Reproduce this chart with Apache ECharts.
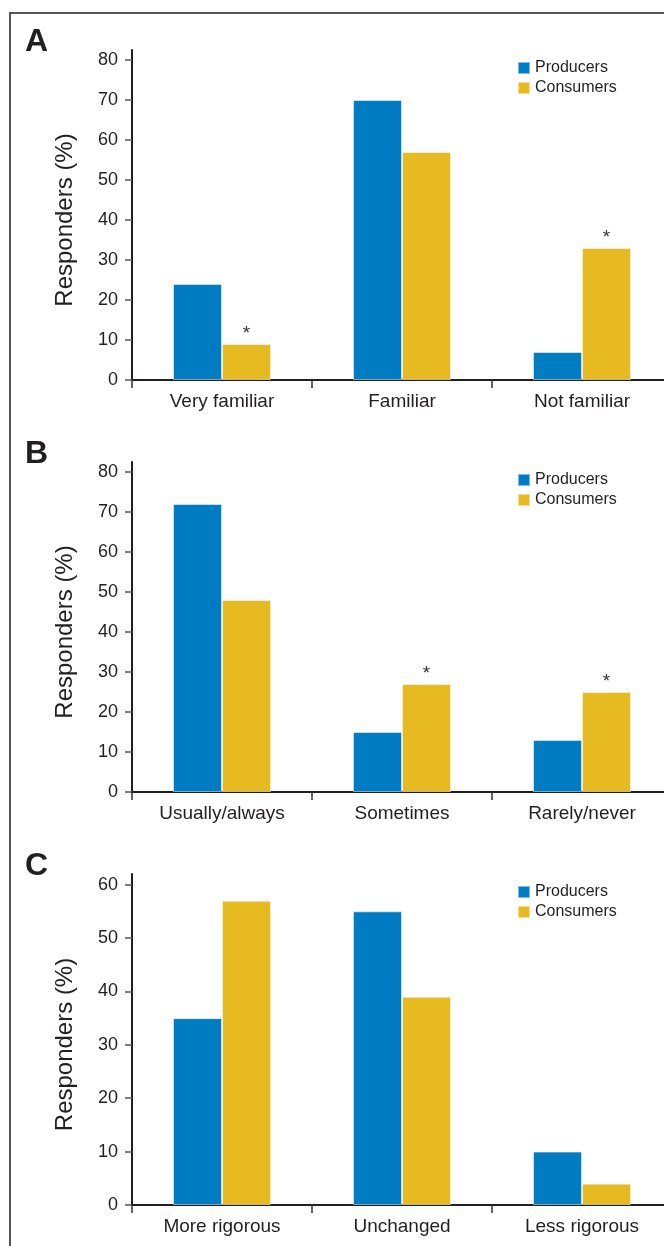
<!DOCTYPE html>
<html>
<head>
<meta charset="utf-8">
<script src="https://cdn.jsdelivr.net/npm/echarts@6/dist/echarts.min.js"></script>
<style>
  html, body { margin: 0; padding: 0; background: #fff; }
  #chart { width: 664px; height: 1246px; }
</style>
</head>
<body>
<div id="chart"></div>
<script>
// panel data (percent of responders)
var catsA = ['Very familiar', 'Familiar', 'Not familiar']
var prodA = [24, 70, 7]
var consA = [9, 57, 33]
var sigA = [1, 0, 1] // asterisk above consumers bar

var catsB = ['Usually/always', 'Sometimes', 'Rarely/never']
var prodB = [72, 15, 13]
var consB = [48, 27, 25]
var sigB = [0, 1, 1]

var catsC = ['More rigorous', 'Unchanged', 'Less rigorous']
var prodC = [35, 55, 10]
var consC = [57, 39, 4]
var sigC = [0, 0, 0]

var ticksAB = [0, 10, 20, 30, 40, 50, 60, 70, 80]
var ticksC = [0, 10, 20, 30, 40, 50, 60]

var BLUE = '#007CC2'
var YELLOW = '#E7BA22'
var FONT = '"Liberation Sans", Arial, sans-serif'

var chart = echarts.init(document.getElementById('chart'))

// grids run past the right edge like the original figure
var grids = [
  { left: 132, width: 540, top: 50, height: 330, outerBoundsMode: 'none' },
  { left: 132, width: 540, top: 462, height: 330, outerBoundsMode: 'none' },
  { left: 132, width: 540, top: 874, height: 331, outerBoundsMode: 'none' }
]

function xAxis(i, cats) {
  return {
    type: 'category',
    gridIndex: i,
    data: cats,
    axisLine: { lineStyle: { color: '#231F20', width: 2 } },
    axisTick: { show: true, length: 8, lineStyle: { color: '#333', width: 1.5 } },
    axisLabel: { color: '#231F20', fontSize: 19, fontFamily: FONT, margin: 12 }
  }
}

function yAxis(i, max, ticks) {
  return {
    type: 'value',
    gridIndex: i,
    min: 0,
    max: max,
    name: 'Responders (%)',
    nameLocation: 'middle',
    nameGap: 55,
    nameTextStyle: { color: '#231F20', fontSize: 24, fontFamily: FONT, padding: [0, 10, 0, 0] },
    splitLine: { show: false },
    axisLine: { show: true, lineStyle: { color: '#231F20', width: 2 } },
    axisTick: { show: true, length: 7, customValues: ticks, lineStyle: { color: '#555', width: 1.5 } },
    axisLabel: { color: '#231F20', fontSize: 18, fontFamily: FONT, margin: 14, customValues: ticks }
  }
}

function bars(i, name, color, data, sig) {
  return {
    name: name,
    type: 'bar',
    xAxisIndex: i,
    yAxisIndex: i,
    barWidth: 49,
    barGap: '0%',
    data: data,
    itemStyle: { color: color, borderColor: 'rgba(255,255,255,0.5)', borderWidth: 1 },
    label: {
      show: !!sig,
      position: 'top',
      distance: 1,
      color: '#333',
      fontSize: 19,
      fontFamily: FONT,
      formatter: function (p) {
        return sig && sig[p.dataIndex] ? '*' : ''
      }
    }
  }
}

function legend(top) {
  return {
    left: 517,
    top: top,
    padding: 0,
    orient: 'vertical',
    itemWidth: 12,
    itemHeight: 12,
    itemGap: 4,
    icon: 'rect',
    textStyle: { color: '#231F20', fontSize: 16, fontFamily: FONT },
    data: ['Producers', 'Consumers']
  }
}

function letter(text, y) {
  return {
    type: 'text',
    left: 25,
    top: y,
    style: { text: text, fontSize: 32, fontWeight: 'bold', fill: '#231F20', fontFamily: FONT }
  }
}

chart.setOption({
  animation: false,
  backgroundColor: '#fff',
  grid: grids,
  legend: [legend(60), legend(472), legend(884)],
  xAxis: [xAxis(0, catsA), xAxis(1, catsB), xAxis(2, catsC)],
  yAxis: [yAxis(0, 82.5, ticksAB), yAxis(1, 82.5, ticksAB), yAxis(2, 62, ticksC)],
  series: [
    bars(0, 'Producers', BLUE, prodA, null),
    bars(0, 'Consumers', YELLOW, consA, sigA),
    bars(1, 'Producers', BLUE, prodB, null),
    bars(1, 'Consumers', YELLOW, consB, sigB),
    bars(2, 'Producers', BLUE, prodC, null),
    bars(2, 'Consumers', YELLOW, consC, sigC)
  ],
  graphic: [
    {
      type: 'rect',
      shape: { x: 10, y: 13, width: 720, height: 1300 },
      style: { fill: 'none', stroke: '#555', lineWidth: 2 }
    },
    letter('A', 26),
    letter('B', 438),
    letter('C', 850)
  ]
})
</script>
</body>
</html>
